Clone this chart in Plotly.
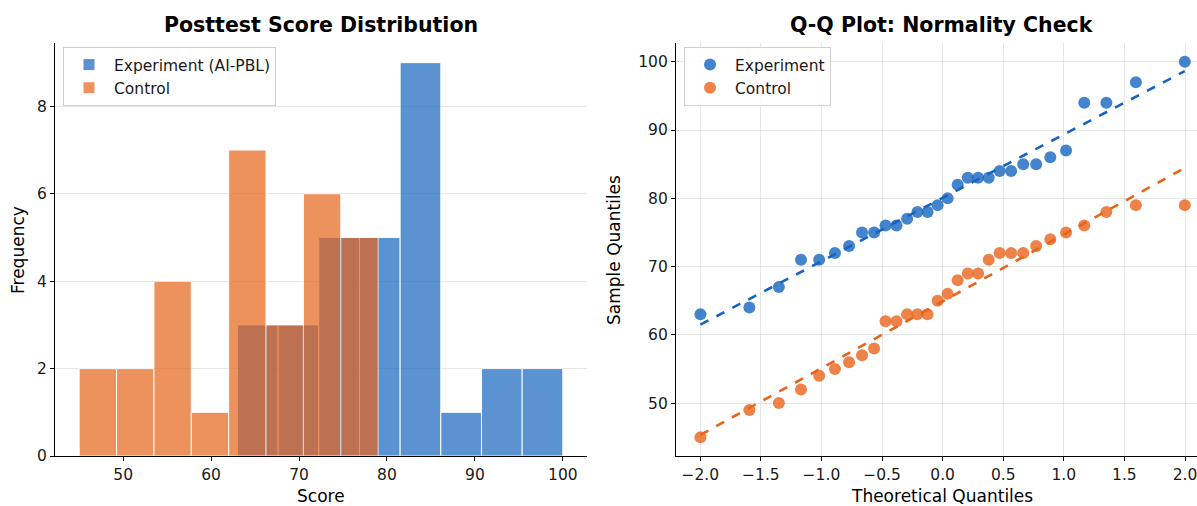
import numpy as np
import plotly.graph_objects as go
from statistics import NormalDist

# ---------------- data ----------------
experiment_scores = [63, 64, 67, 71, 71, 72, 73, 75, 75, 76, 76, 77, 78, 78, 79,
                     80, 82, 83, 83, 83, 84, 84, 85, 85, 86, 87, 94, 94, 97, 100]
control_scores = [45, 49, 50, 52, 54, 55, 56, 57, 58, 62, 62, 63, 63, 63, 65,
                  66, 68, 69, 69, 71, 72, 72, 72, 73, 74, 75, 76, 78, 79, 79]
group_names_hist = ["Experiment (AI-PBL)", "Control"]
group_names_qq = ["Experiment", "Control"]
n_bins = 8
hist_xticks = [50, 60, 70, 80, 90, 100]
hist_yticks = [0, 2, 4, 6, 8]
qq_xticks = [-2.0, -1.5, -1.0, -0.5, 0.0, 0.5, 1.0, 1.5, 2.0]
qq_yticks = [50, 60, 70, 80, 90, 100]

# ---------------- styling ----------------
W, H = 1197, 506
BLUE = "#1565C0"
ORANGE = "#E8641A"
FONT = "DejaVu Sans"
TXT = "#1a1a1a"
TICK_SIZE = 15.5
LABEL_SIZE = 17
TITLE_SIZE = 20.5


def fx(x):
    return x / W


def fy(y):
    return 1 - y / H


PLOT_TOP, PLOT_BOT = 43, 456
L_DOM = [fx(55), fx(587)]
R_DOM = [fx(676), 1.0]
Y_DOM = [fy(PLOT_BOT), fy(PLOT_TOP)]

fig = go.Figure()

# ---------------- histogram ----------------
for scores, name, color, lg in [(experiment_scores, group_names_hist[0], BLUE, "e"),
                                (control_scores, group_names_hist[1], ORANGE, "c")]:
    counts, edges = np.histogram(scores, bins=n_bins)
    centers = (edges[:-1] + edges[1:]) / 2
    widths = np.diff(edges)
    fig.add_trace(go.Bar(
        x=centers, y=counts, width=widths, name=name,
        marker=dict(color=color, line=dict(color="white", width=1)),
        opacity=0.7, xaxis="x", yaxis="y", legend="legend",
        legendgroup=lg, hoverinfo="skip"))

# ---------------- Q-Q ----------------
def theoretical_quantiles(n):
    mn = 0.5 ** (1.0 / n)
    m = [1 - mn] + [(i - 0.3175) / (n + 0.365) for i in range(2, n)] + [mn]
    nd = NormalDist()
    return np.array([nd.inv_cdf(p) for p in m])


for scores, name, color, lg in [(experiment_scores, group_names_qq[0], BLUE, "e2"),
                                (control_scores, group_names_qq[1], ORANGE, "c2")]:
    ys = np.sort(np.array(scores, dtype=float))
    osm = theoretical_quantiles(len(ys))
    slope, intercept = np.polyfit(osm, ys, 1)
    fig.add_trace(go.Scatter(
        x=osm, y=ys, mode="markers", name=name,
        marker=dict(color=color, size=12, opacity=0.8, line=dict(width=0)),
        xaxis="x2", yaxis="y2", legend="legend2", legendgroup=lg))
    lx = np.array([osm[0], osm[-1]])
    fig.add_trace(go.Scatter(
        x=lx, y=slope * lx + intercept, mode="lines", showlegend=False,
        line=dict(color=color, width=2.6, dash="dash"),
        xaxis="x2", yaxis="y2", hoverinfo="skip"))

axis_common = dict(
    showline=True, linecolor="black", linewidth=1.1, mirror=False,
    ticks="outside", ticklen=4, tickwidth=1, tickcolor="black",
    tickfont=dict(family=FONT, size=TICK_SIZE, color=TXT),
    zeroline=False, gridcolor="rgba(200,200,200,0.45)", gridwidth=1,
    automargin=False, ticklabeloverflow="allow",
)

legend_common = dict(
    xanchor="left", yanchor="top",
    bgcolor="rgba(255,255,255,0.85)", bordercolor="#d0d0d0", borderwidth=1,
    font=dict(family=FONT, size=TICK_SIZE, color=TXT), tracegroupgap=0,
    itemwidth=40,
)

fig.update_layout(
    width=W, height=H,
    margin=dict(l=0, r=0, t=0, b=0, autoexpand=False),
    paper_bgcolor="white", plot_bgcolor="white",
    barmode="overlay",
    font=dict(family=FONT, size=TICK_SIZE, color=TXT),
    xaxis=dict(domain=L_DOM, range=[42.25, 102.75], tickvals=hist_xticks,
               showgrid=False, anchor="y", **axis_common),
    yaxis=dict(domain=Y_DOM, range=[0, 9.45], tickvals=hist_yticks,
               showgrid=True, anchor="x", **axis_common),
    xaxis2=dict(domain=R_DOM, range=[-2.2, 2.0 + 12 / 121.3], tickvals=qq_xticks,
                tickformat=".1f", showgrid=True, anchor="y2", **axis_common),
    yaxis2=dict(domain=Y_DOM, range=[42.25, 102.75], tickvals=qq_yticks,
                showgrid=True, anchor="x2", **axis_common),
    legend=dict(x=fx(63), y=fy(47), **legend_common),
    legend2=dict(x=fx(684), y=fy(47), **legend_common),
    showlegend=True,
)

annots = [
    dict(text="<b>Posttest Score Distribution</b>", x=fx(321), y=fy(25), size=TITLE_SIZE),
    dict(text="<b>Q-Q Plot: Normality Check</b>", x=fx(942), y=fy(25), size=TITLE_SIZE),
    dict(text="Score", x=fx(321), y=fy(496), size=LABEL_SIZE),
    dict(text="Theoretical Quantiles", x=fx(942), y=fy(496), size=LABEL_SIZE),
]
for a in annots:
    fig.add_annotation(text=a["text"], x=a["x"], y=a["y"], xref="paper", yref="paper",
                       showarrow=False, xanchor="center", yanchor="middle",
                       font=dict(family=FONT, size=a["size"], color="black"))
for text, x, y in [("Frequency", 18, 250), ("Sample Quantiles", 614, 250)]:
    fig.add_annotation(text=text, x=fx(x), y=fy(y), xref="paper", yref="paper",
                       showarrow=False, xanchor="center", yanchor="middle", textangle=-90,
                       font=dict(family=FONT, size=LABEL_SIZE, color="black"))

fig.write_html(
    "out.html",
    config={"displayModeBar": False},
    post_script="document.body.style.margin='0';document.body.style.padding='0';",
)
